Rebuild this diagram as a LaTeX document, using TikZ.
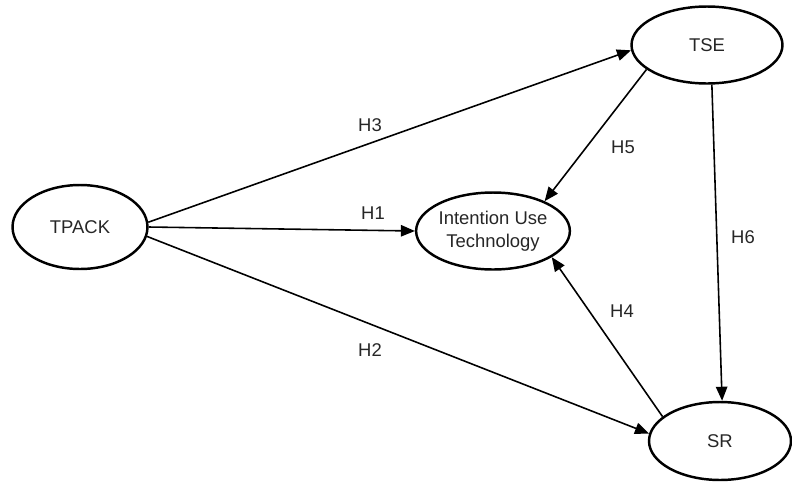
\documentclass[tikz,border=0pt]{standalone}
\usepackage{fontspec}
\setmainfont{Liberation Sans}
\usetikzlibrary{shapes.geometric, arrows.meta}

\begin{document}
\begin{tikzpicture}[
  x=0.02cm, y=-0.02cm,
  cbox/.style={draw, ellipse, line width=1.4pt, inner sep=0pt,
               font=\fontsize{10.5}{13}\selectfont, align=center,
               text=black!85},
  hlab/.style={font=\fontsize{10.5}{13}\selectfont, inner sep=1pt,
               text=black!85},
  arr/.style={-{Triangle[length=8pt, width=6.5pt]}, line width=0.9pt},
]
\useasboundingbox (0,0) rectangle (792,481);

% --- Construct nodes ---
\node[cbox, minimum width=2.70cm, minimum height=1.68cm]
  (TPACK) at (80, 227) {TPACK};
\node[cbox, minimum width=3.02cm, minimum height=1.54cm]
  (TSE)   at (707, 45) {TSE};
\node[cbox, minimum width=3.06cm, minimum height=1.54cm]
  (ITU)   at (493, 231) {Intention Use\\Technology};
\node[cbox, minimum width=2.84cm, minimum height=1.56cm]
  (SR)    at (720, 441) {SR};

% --- Paths ---
\draw[arr] (TPACK.4)   -- (TSE.184);
\draw[arr] (TPACK.0)   -- (ITU.180);
\draw[arr] (TPACK.-8)  -- (SR.174);
\draw[arr] (TSE.202)   -- (ITU.30);
\draw[arr] (TSE.-83)   -- (SR.87);
\draw[arr] (SR.157)    -- (ITU.-24);

% --- Hypothesis labels ---
\node[hlab] (h1) at (373, 213) {H1};
\node[hlab] (h2) at (370, 350) {H2};
\node[hlab] (h3) at (370, 125) {H3};
\node[hlab] (h4) at (622, 311) {H4};
\node[hlab] (h5) at (623, 147) {H5};
\node[hlab] (h6) at (743, 237) {H6};
\end{tikzpicture}
\end{document}
